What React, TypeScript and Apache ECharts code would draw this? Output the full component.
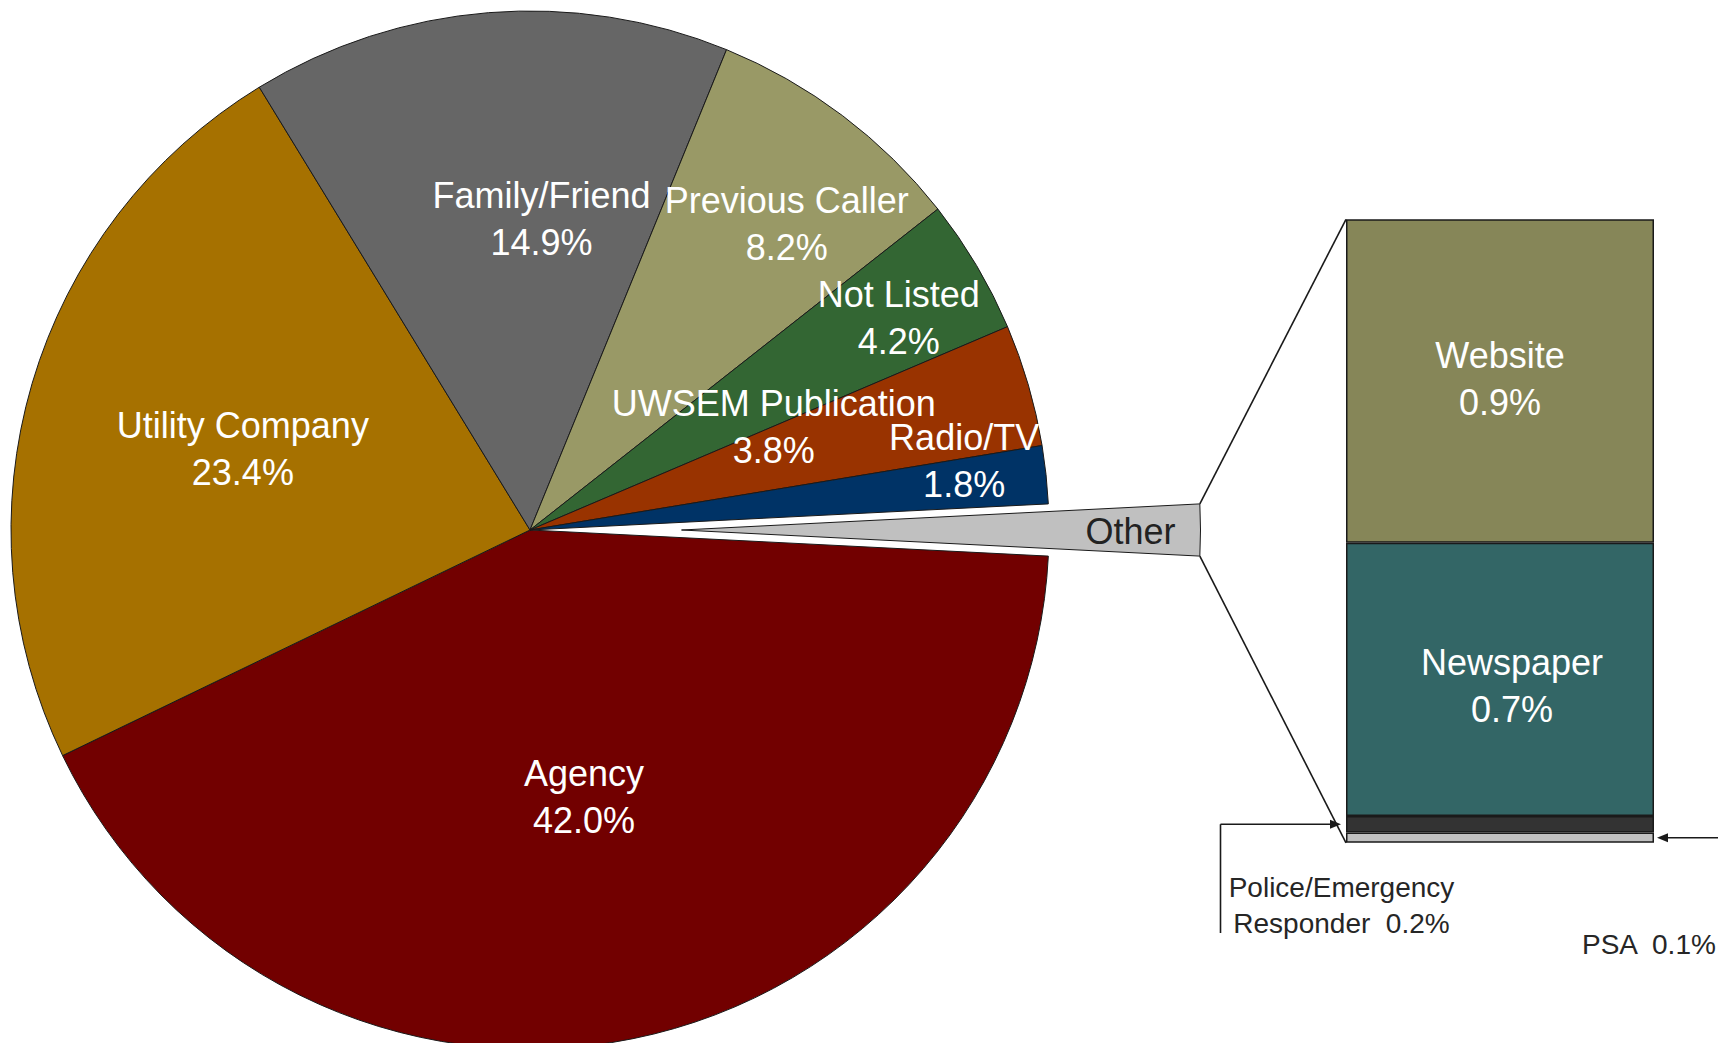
import React, { useEffect, useRef } from 'react';
import * as echarts from 'echarts';

const W = 1718;
const H = 1043;

// ---- Data ----
const pieCategories = ['Other', 'Agency', 'Utility Company', 'Family/Friend', 'Previous Caller', 'Not Listed', 'UWSEM Publication', 'Radio/TV'];
const pieValues = [1.6, 42.0, 23.4, 14.9, 8.2, 4.2, 3.8, 1.8];
const pieColors = ['#C0C0C0', '#720000', '#A67100', '#666666', '#999966', '#336633', '#993300', '#003366'];

const otherCategories = ['Website', 'Newspaper', 'Police/Emergency Responder', 'PSA'];
const otherPct = [0.9, 0.7, 0.2, 0.1];
const otherBarValues = [0.985, 0.832, 0.051, 0.031];
const otherColors = ['#868658', '#336666', '#333333', '#C0C0C0'];

// ---- Layout / style ----
const FONT = "'Liberation Sans', Arial, sans-serif";
const CX = 530;
const CY = 530;
const R = 519;
const EXPLODE = 151.5;
const LINE = '#1a1a1a';
// [fraction of radius, angle nudge in degrees] per pie label
const labelPlacement = [[0.865, 0], [0.524, 0], [0.575, 0.6], [0.6, -6.7], [0.769, -3], [0.82, -0.7], [0.51, 6.7], [0.847, 2.9]];
const GRID = { left: 1346, top: 219.3, width: 308, height: 623.5 };

export default function App() {
  const ref = useRef<HTMLDivElement>(null);

  useEffect(() => {
    if (!ref.current) return;
    const chart = echarts.init(ref.current, undefined, { renderer: 'svg' });

    const total = pieValues.reduce((a, b) => a + b, 0);
    const degPer = 360 / total;
    const startAngle = (pieValues[0] * degPer) / 2;
    const mids: number[] = [];
    let a = startAngle;
    pieValues.forEach((v) => {
      mids.push(a - (v * degPer) / 2);
      a -= v * degPer;
    });
    const rad = (d: number) => (d * Math.PI) / 180;
    const ocx = CX + EXPLODE * Math.cos(rad(mids[0]));
    const ocy = CY - EXPLODE * Math.sin(rad(mids[0]));
    const topCorner = [ocx + R * Math.cos(rad(startAngle)), ocy - R * Math.sin(rad(startAngle))];
    const endOther = startAngle - pieValues[0] * degPer;
    const botCorner = [ocx + R * Math.cos(rad(endOther)), ocy - R * Math.sin(rad(endOther))];
    const otherLabelPos = [
      ocx + labelPlacement[0][0] * R * Math.cos(rad(mids[0] + labelPlacement[0][1])),
      ocy - labelPlacement[0][0] * R * Math.sin(rad(mids[0] + labelPlacement[0][1])) + 1,
    ];

    const barTotal = otherBarValues.reduce((s, v) => s + v, 0);
    const yOf = (v: number) => GRID.top + GRID.height * (1 - v / barTotal);
    // cumulative from bottom (PSA is bottom)
    const psaY = yOf(otherBarValues[3] / 2);
    const policeY = yOf(otherBarValues[3] + otherBarValues[2] / 2);
    const barBottom = yOf(0);
    const barTop = yOf(barTotal);
    const barRight = GRID.left + GRID.width;

    const pieData = pieCategories.map((name, i) => {
      const isOther = i === 0;
      const lbl = {
        show: !isOther,
        color: '#ffffff',
        fontSize: 36,
        lineHeight: 47,
        fontFamily: FONT,
      };
      return {
        name,
        value: pieValues[i],
        selected: isOther,
        itemStyle: { color: pieColors[i], borderColor: LINE, borderWidth: 1 },
        select: { itemStyle: { color: pieColors[i], borderColor: LINE, borderWidth: 1 }, label: lbl },
        label: lbl,
      };
    });

    const barSeries = [3, 2, 1, 0].map((i) => ({
      type: 'bar',
      name: otherCategories[i],
      stack: 'other',
      barWidth: '100%',
      data: [otherBarValues[i]],
      itemStyle: { color: otherColors[i], borderColor: LINE, borderWidth: 1.5 },
      label: {
        show: i < 2,
        position: 'inside',
        formatter: `${otherCategories[i]}\n${otherPct[i].toFixed(1)}%`,
        color: '#ffffff',
        fontSize: 36,
        lineHeight: 47,
        fontFamily: FONT,
        offset: i === 1 ? [12, 7] : [0, -2],
      },
      emphasis: { disabled: true },
    }));

    const arrow = (tx: number, ty: number, dir: number) => ({
      type: 'polygon',
      z: 100,
      shape: { points: [[tx, ty], [tx - dir * 11, ty - 4.5], [tx - dir * 11, ty + 4.5]] },
      style: { fill: LINE },
      silent: true,
    });
    const seg = (x1: number, y1: number, x2: number, y2: number) => ({
      type: 'line',
      z: 100,
      shape: { x1, y1, x2, y2 },
      style: { stroke: LINE, lineWidth: 1.6 },
      silent: true,
    });

    const policeX = GRID.left - 125.5;
    const policeTip = GRID.left - 5;
    const psaTip = barRight + 3;

    chart.setOption({
      animation: false,
      backgroundColor: '#ffffff',
      grid: { left: GRID.left, top: GRID.top, width: GRID.width, height: GRID.height, containLabel: false },
      xAxis: { type: 'category', data: [''], show: false },
      yAxis: { type: 'value', min: 0, max: barTotal, show: false },
      series: [
        {
          type: 'pie',
          center: [CX, CY],
          radius: R,
          startAngle,
          clockwise: true,
          selectedMode: 'single',
          selectedOffset: EXPLODE,
          avoidLabelOverlap: false,
          emphasis: { disabled: true },
          label: {
            show: true,
            position: 'inside',
            formatter: (p: any) => `${p.name}\n${p.value.toFixed(1)}%`,
          },
          labelLine: { show: false },
          labelLayout: (params: any) => {
            const i = params.dataIndex;
            const [f, d] = labelPlacement[i];
            const ang = rad(mids[i] + d);
            return {
              x: CX + f * R * Math.cos(ang),
              y: CY - f * R * Math.sin(ang),
              align: 'center',
              verticalAlign: 'middle',
            };
          },
          data: pieData,
        },
        ...barSeries,
      ],
      graphic: [
        seg(topCorner[0], topCorner[1], GRID.left, barTop),
        seg(botCorner[0], botCorner[1], GRID.left, barBottom),
        seg(policeX, 933, policeX, policeY),
        seg(policeX, policeY, policeTip - 9, policeY),
        arrow(policeTip, policeY, 1),
        seg(W, psaY, psaTip + 9, psaY),
        arrow(psaTip, psaY, -1),
        {
          type: 'text',
          z: 100,
          x: otherLabelPos[0],
          y: otherLabelPos[1],
          silent: true,
          style: {
            text: pieCategories[0],
            fill: '#222222',
            fontSize: 36,
            fontFamily: FONT,
            textAlign: 'center',
            textVerticalAlign: 'middle',
            align: 'center',
            verticalAlign: 'middle',
          },
        },
        {
          type: 'text',
          z: 100,
          x: GRID.left - 4.5,
          y: 905.5,
          silent: true,
          style: {
            text: 'Police/Emergency\nResponder  ' + otherPct[2].toFixed(1) + '%',
            fill: '#262626',
            fontSize: 28,
            lineHeight: 36,
            fontFamily: FONT,
            textAlign: 'center',
            textVerticalAlign: 'middle',
            align: 'center',
            verticalAlign: 'middle',
          },
        },
        {
          type: 'text',
          z: 100,
          x: 1582,
          y: 944.5,
          silent: true,
          style: {
            text: otherCategories[3] + '  ' + otherPct[3].toFixed(1) + '%',
            fill: '#262626',
            fontSize: 28,
            fontFamily: FONT,
            textAlign: 'left',
            textVerticalAlign: 'middle',
            align: 'left',
            verticalAlign: 'middle',
          },
        },
      ],
    });

    return () => chart.dispose();
  }, []);

  return (
    <div
      ref={ref}
      style={{ position: 'absolute', left: 0, top: 0, width: W, height: H, background: '#ffffff', overflow: 'hidden' }}
    />
  );
}
